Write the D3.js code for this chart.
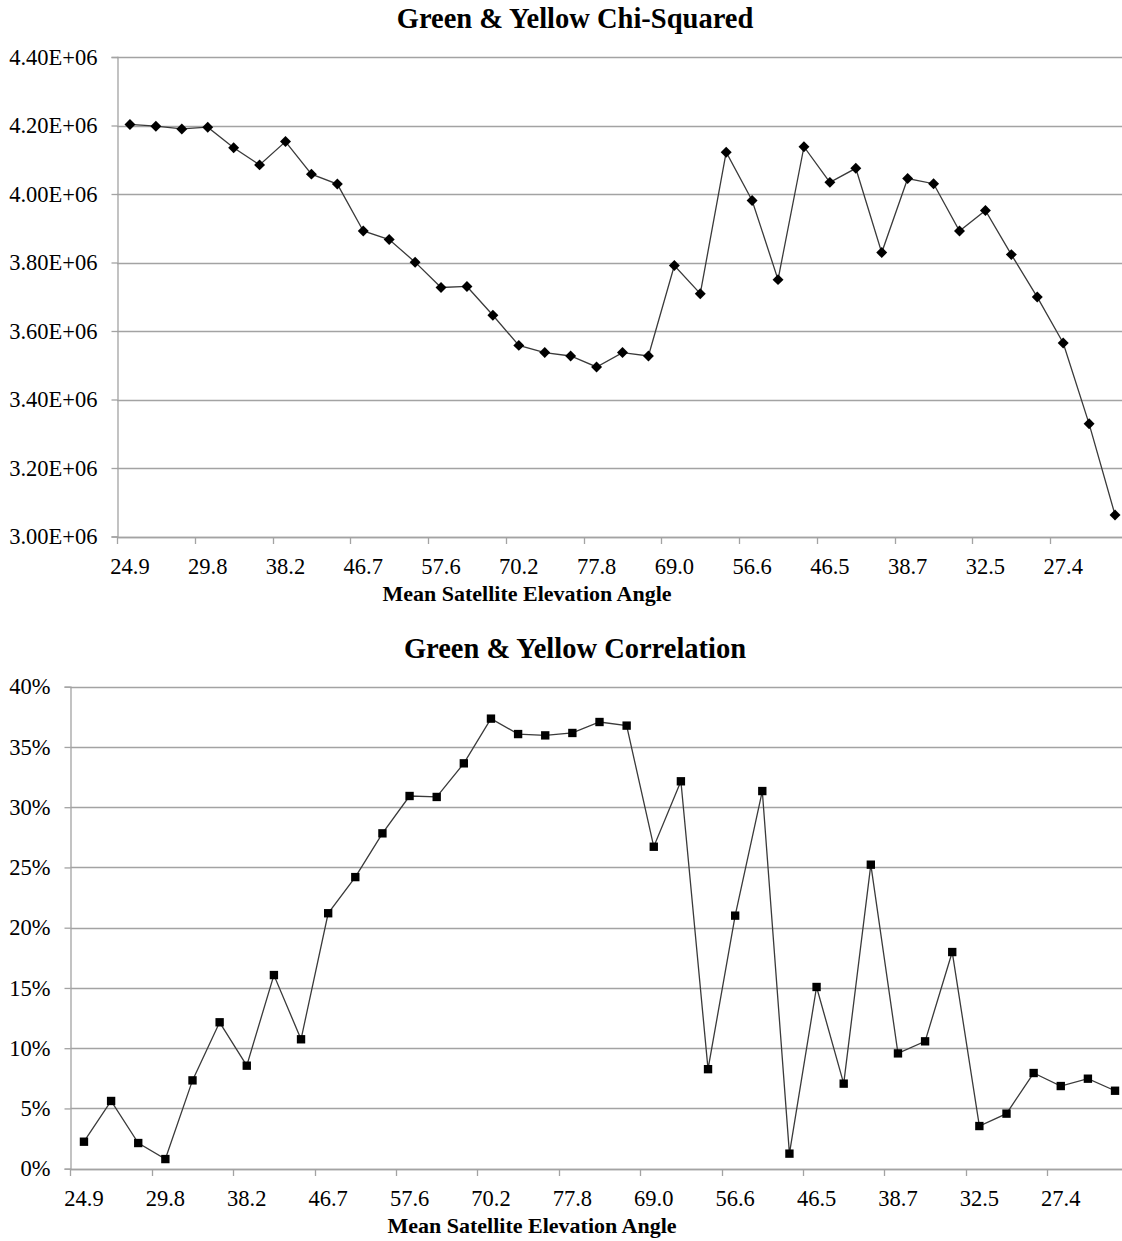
<!DOCTYPE html>
<html>
<head>
<meta charset="utf-8">
<script src="https://cdn.jsdelivr.net/npm/d3@7"></script>
<style>
  html, body { margin: 0; padding: 0; background: #fff; }
  svg { display: block; }
  text { font-family: "Liberation Serif", "Times New Roman", serif; fill: #000; }
</style>
</head>
<body>
<svg id="chart" width="1122" height="1241"></svg>
<script>
// ---- Data ----
const xTickLabels = ["24.9", "29.8", "38.2", "46.7", "57.6", "70.2", "77.8", "69.0", "56.6", "46.5", "38.7", "32.5", "27.4"];
const labelEvery = 3;

const chiSquared = [
  4.203e6, 4.198e6, 4.190e6, 4.195e6, 4.135e6, 4.085e6, 4.153e6, 4.058e6, 4.029e6, 3.892e6,
  3.867e6, 3.801e6, 3.727e6, 3.730e6, 3.646e6, 3.558e6, 3.537e6, 3.527e6, 3.495e6, 3.537e6,
  3.527e6, 3.791e6, 3.709e6, 4.122e6, 3.981e6, 3.750e6, 4.138e6, 4.034e6, 4.075e6, 3.829e6,
  4.045e6, 4.030e6, 3.892e6, 3.952e6, 3.823e6, 3.699e6, 3.565e6, 3.329e6, 3.063e6
];
const chiTicks = [3.0e6, 3.2e6, 3.4e6, 3.6e6, 3.8e6, 4.0e6, 4.2e6, 4.4e6];

const correlation = [
  0.0224, 0.0562, 0.0213, 0.0080, 0.0733, 0.1215, 0.0855, 0.1607, 0.1074, 0.2120,
  0.2420, 0.2783, 0.3093, 0.3085, 0.3364, 0.3735, 0.3607, 0.3596, 0.3616, 0.3707,
  0.3677, 0.2672, 0.3215, 0.0826, 0.2100, 0.3134, 0.0125, 0.1508, 0.0706, 0.2523,
  0.0957, 0.1057, 0.1798, 0.0354, 0.0457, 0.0794, 0.0686, 0.0747, 0.0647
];
const corrTicks = [0, 0.05, 0.10, 0.15, 0.20, 0.25, 0.30, 0.35, 0.40];

const titles = ["Green & Yellow Chi-Squared", "Green & Yellow Correlation"];
const xAxisTitle = "Mean Satellite Elevation Angle";

// ---- Drawing ----
const svg = d3.select("#chart");
const gridColor = "#a3a3a3";
const lineColor = "#3a3a3a";

// square diamond (rotated square) symbol
const squareDiamond = {
  draw(context, size) {
    const r = Math.sqrt(size / 2);
    context.moveTo(0, -r); context.lineTo(r, 0); context.lineTo(0, r); context.lineTo(-r, 0); context.closePath();
  }
};

function drawChart(cfg) {
  const { values, ticks, yDomain, fmt, left, right, top, bottom, title, titleY, marker } = cfg;
  const g = svg.append("g");
  const x = d3.scaleBand().domain(d3.range(values.length)).range([left, right]).paddingInner(0).paddingOuter(0);
  const y = d3.scaleLinear().domain(yDomain).range([bottom, top]);

  // gridlines
  g.append("g").selectAll("line").data(ticks).join("line")
    .attr("x1", left).attr("x2", right)
    .attr("y1", d => Math.round(y(d)) + 0.5).attr("y2", d => Math.round(y(d)) + 0.5)
    .attr("stroke", gridColor).attr("stroke-width", 1.3);

  // y axis
  const yAxis = d3.axisLeft(y).tickValues(ticks).tickFormat(fmt).tickSize(6).tickPadding(14);
  const ya = g.append("g").attr("transform", `translate(${Math.round(left) + 0.5},0)`).call(yAxis);
  ya.select(".domain").attr("stroke", gridColor).attr("stroke-width", 1.3);
  ya.selectAll(".tick line").attr("stroke", gridColor).attr("stroke-width", 1.3);
  ya.selectAll(".tick text").style("font-size", "22.5px").attr("fill", "#000")
    .attr("font-family", "Liberation Serif");

  // x axis: tick marks at category boundaries every 3, labels at category centers
  const boundaryIdx = d3.range(0, values.length + 1, labelEvery);
  const bx = i => left + i * x.bandwidth();
  g.append("line").attr("x1", left).attr("x2", right)
    .attr("y1", Math.round(bottom) + 0.5).attr("y2", Math.round(bottom) + 0.5)
    .attr("stroke", gridColor).attr("stroke-width", 1.3);
  g.append("g").selectAll("line").data(boundaryIdx).join("line")
    .attr("x1", d => Math.round(bx(d)) + 0.5).attr("x2", d => Math.round(bx(d)) + 0.5)
    .attr("y1", Math.round(bottom)).attr("y2", Math.round(bottom) + 7)
    .attr("stroke", gridColor).attr("stroke-width", 1.3);
  g.append("g").selectAll("text").data(xTickLabels).join("text")
    .attr("x", (d, i) => x(i * labelEvery) + x.bandwidth() / 2)
    .attr("y", bottom + 37)
    .attr("text-anchor", "middle")
    .style("font-size", "22.5px")
    .text(d => d);

  // x axis title
  g.append("text").attr("x", cfg.xTitleX).attr("y", bottom + 64)
    .attr("text-anchor", "middle").style("font-size", "22px").style("font-weight", "bold")
    .text(xAxisTitle);

  // title
  g.append("text").attr("x", 575).attr("y", titleY)
    .attr("text-anchor", "middle").style("font-size", "28.5px").style("font-weight", "bold")
    .text(title);

  // line
  const line = d3.line().x((d, i) => x(i) + x.bandwidth() / 2).y(d => y(d));
  g.append("path").datum(values).attr("d", line)
    .attr("fill", "none").attr("stroke", lineColor).attr("stroke-width", 1.3);

  // markers
  const sym = marker === "diamond" ? d3.symbol().type(squareDiamond).size(60)
                                   : d3.symbol().type(d3.symbolSquare).size(70);
  g.append("g").selectAll("path").data(values).join("path")
    .attr("d", sym)
    .attr("transform", (d, i) => `translate(${x(i) + x.bandwidth() / 2},${y(d)})`)
    .attr("fill", "#000");
}

drawChart({
  values: chiSquared, ticks: chiTicks, yDomain: [3.0e6, 4.4e6],
  fmt: d => (d / 1e6).toFixed(2) + "E+06",
  left: 117, right: 1128, top: 57, bottom: 536.5,
  title: titles[0], titleY: 28, marker: "diamond", xTitleX: 527
});

drawChart({
  values: correlation, ticks: corrTicks, yDomain: [0, 0.40],
  fmt: d => Math.round(d * 100) + "%",
  left: 70.4, right: 1128.6, top: 686.7, bottom: 1168.7,
  title: titles[1], titleY: 658, marker: "square", xTitleX: 532
});
</script>
</body>
</html>
